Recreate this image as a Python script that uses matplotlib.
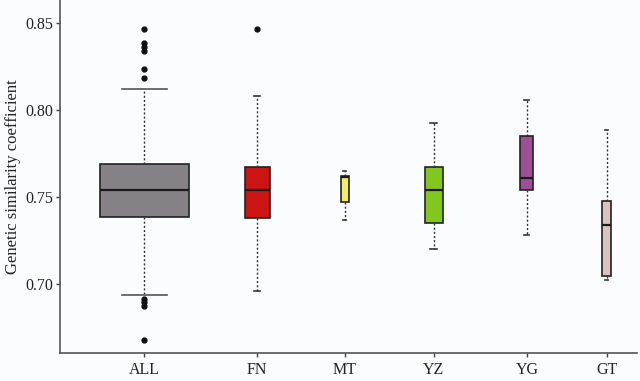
import matplotlib
matplotlib.use("Agg")
import matplotlib.pyplot as plt

categories = ["ALL", "FN", "MT", "YZ", "YG", "GT"]
q1 = [0.7387, 0.7378, 0.7473, 0.7349, 0.7542, 0.7046]
med = [0.7538, 0.7540, 0.7613, 0.7542, 0.7609, 0.7337]
q3 = [0.7688, 0.7671, 0.7621, 0.7672, 0.7852, 0.7475]
whislo = [0.6939, 0.6960, 0.7368, 0.7201, 0.7283, 0.7023]
whishi = [0.8122, 0.8082, 0.7649, 0.7927, 0.8057, 0.7885]
outliers = [
    [0.8467, 0.8383, 0.8364, 0.8339, 0.8234, 0.8186, 0.6914, 0.6895, 0.6874, 0.6678],
    [0.8467],
    [], [], [], [],
]
colors = ["#858186", "#cc1414", "#f2ee6a", "#82c61e", "#9e4f98", "#d9c3bc"]

positions = [0.84, 1.97, 2.85, 3.74, 4.67, 5.47]
widths = [0.89, 0.25, 0.08, 0.18, 0.13, 0.09]
capw = [0.45, 0.06, 0.03, 0.07, 0.05, 0.03]

plt.rcParams["font.family"] = ["Liberation Serif", "DejaVu Serif"]
fig = plt.figure(figsize=(6.4, 3.81), dpi=100, facecolor="#fbfcfd")
ax = fig.add_axes([0.094, 0.0735, 0.901, 0.9265])
ax.set_facecolor("#fbfcfd")

stats = []
for i, c in enumerate(categories):
    stats.append(dict(label=c, q1=q1[i], med=med[i], q3=q3[i],
                      whislo=whislo[i], whishi=whishi[i], fliers=outliers[i]))

bp = ax.bxp(stats, positions=positions, widths=widths, capwidths=capw,
            patch_artist=True, showfliers=True,
            boxprops=dict(edgecolor="#222222", linewidth=1.2),
            medianprops=dict(color="#1a1a1a", linewidth=1.6),
            whiskerprops=dict(color="#333333", linestyle=(0, (1.5, 1.5)), linewidth=1.0),
            capprops=dict(color="#333333", linewidth=1.2),
            flierprops=dict(marker="o", markerfacecolor="#111111",
                            markeredgecolor="#111111", markersize=3.5))
for patch, col in zip(bp["boxes"], colors):
    patch.set_facecolor(col)
bp["caps"][0].set_color("#555555")
bp["caps"][1].set_color("#555555")

ax.set_xlim(0, 5.77)
ax.set_ylim(0.6603, 0.8632)
ax.set_yticks([0.70, 0.75, 0.80, 0.85])
ax.set_yticklabels(["0.70", "0.75", "0.80", "0.85"])
ax.set_xticks(positions)
ax.set_xticklabels(categories)
ax.tick_params(axis="both", labelsize=11.5, length=3, width=1, color="#444444", labelcolor="#222222")
ax.tick_params(axis="y", pad=2)
ax.set_ylabel("Genetic similarity coefficient", fontsize=12, color="#222222", labelpad=3)
for s in ["top", "right"]:
    ax.spines[s].set_visible(False)
for s in ["left", "bottom"]:
    ax.spines[s].set_color("#555555")
    ax.spines[s].set_linewidth(1.2)

fig.savefig("out.png", dpi=100, facecolor=fig.get_facecolor())
